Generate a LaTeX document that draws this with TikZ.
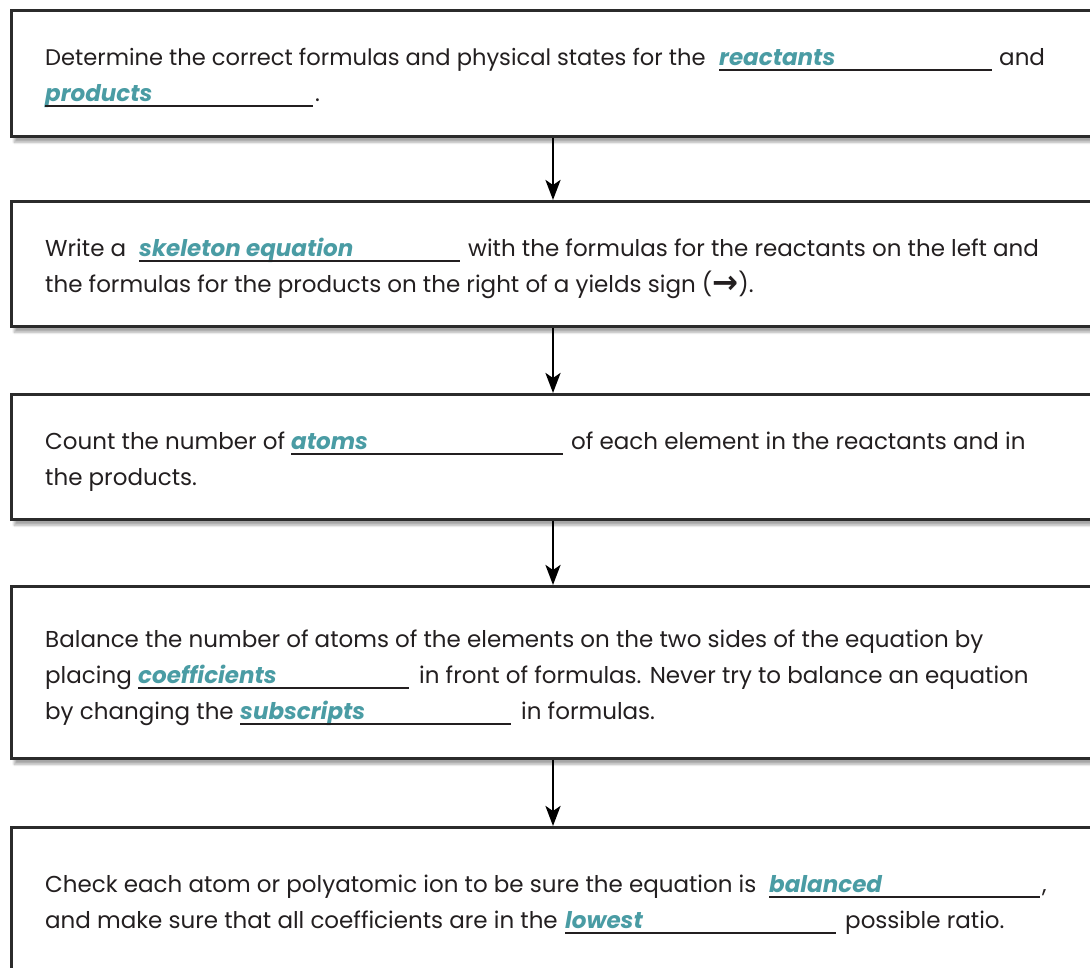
\documentclass[tikz,border=0pt]{standalone}
\usepackage{fontspec}
\usepackage{graphicx}
\setmainfont{Poppins}
\newfontfamily\symfont{DejaVu Sans}
\usetikzlibrary{arrows.meta,shadows.blur}
\definecolor{boxgray}{HTML}{2B2B2B}
\definecolor{txt}{HTML}{231F20}
\definecolor{teal}{HTML}{4A9CA4}
\tikzset{
  box/.style={draw=boxgray, line width=2.5pt, fill=white, rectangle, anchor=north west,
    minimum width=1110pt, inner sep=0pt,
    blur shadow={shadow xshift=3pt, shadow yshift=-6pt, shadow blur steps=12, shadow opacity=35}},
  txtline/.style={anchor=base west, inner sep=0pt, text=txt, font=\fontsize{23}{28}\selectfont},
  blankword/.style={anchor=base west, inner sep=0pt, text=teal, font=\fontsize{23}{28}\selectfont\bfseries\itshape},
  blankline/.style={draw=txt, line width=1.2pt},
  flowarrow/.style={draw=black, line width=2.8pt, -{Stealth[length=20pt,width=15pt,inset=5pt]}}
}
\newcommand\blankat[5]{% name, x, y, length, word
  \node[blankword] (#1) at (#2,#3) {#5};
  \draw[blankline] (#1.base west) ++(0,5) -- ++(#4,0);
}
\begin{document}
\begin{tikzpicture}[x=1pt,y=-1pt]
\useasboundingbox (0,0) rectangle (1090,967);
% boxes
\node[box, minimum height=126pt] (b1) at (10,9) {};
\node[box, minimum height=125pt] (b2) at (10,200) {};
\node[box, minimum height=125pt] (b3) at (10,393) {};
\node[box, minimum height=172pt] (b4) at (10,585) {};
\node[box, minimum height=180pt] (b5) at (10,826) {};
% arrows
\draw[flowarrow] (b1.south -| 553,0) -- (b2.north -| 553,0);
\draw[flowarrow] (b2.south -| 553,0) -- (b3.north -| 553,0);
\draw[flowarrow] (b3.south -| 553,0) -- (b4.north -| 553,0);
\draw[flowarrow] (b4.south -| 553,0) -- (b5.north -| 553,0);
% box 1
\node[txtline, font=\fontsize{22.6}{28}\selectfont] (t1a) at (45,65) {Determine the correct formulas and physical states for the};
\blankat{w1a}{719}{65}{273}{reactants}
\node[txtline] (t1b) at (999,65) {and};
\blankat{w1b}{45}{101}{268}{products}
\node[txtline] (t1c) at (315,101) {.};
% box 2
\node[txtline] (t2a) at (45,256) {Write a};
\blankat{w2a}{139}{256}{321}{skeleton equation}
\node[txtline] (t2b) at (468,256) {with the formulas for the reactants on the left and};
\node[txtline] (t2c) at (45,292) {the formulas for the products on the right of a yields sign (\raisebox{-1pt}{\scalebox{1.35}[1.4]{\symfont\bfseries →}}).};
% box 3
\node[txtline] (t3a) at (45,449) {Count the number of};
\blankat{w3a}{291}{449}{272}{atoms}
\node[txtline] (t3b) at (571,449) {of each element in the reactants and in};
\node[txtline] (t3c) at (45,485) {the products.};
% box 4
\node[txtline] (t4a) at (45,647) {Balance the number of atoms of the elements on the two sides of the equation by};
\node[txtline] (t4b) at (45,683) {placing};
\blankat{w4a}{138}{683}{271}{coefficients}
\node[txtline] (t4c) at (419,683) {in front of formulas. Never try to balance an equation};
\node[txtline] (t4d) at (45,719) {by changing the};
\blankat{w4b}{240}{719}{271}{subscripts}
\node[txtline] (t4e) at (521,719) {in formulas.};
% box 5
\node[txtline] (t5a) at (45,892) {Check each atom or polyatomic ion to be sure the equation is};
\blankat{w5a}{769}{892}{271}{balanced}
\node[txtline] (t5b) at (1042,892) {,};
\node[txtline] (t5c) at (45,928) {and make sure that all coefficients are in the};
\blankat{w5b}{565}{928}{271}{lowest}
\node[txtline] (t5d) at (845,928) {possible ratio.};
\end{tikzpicture}
\end{document}
